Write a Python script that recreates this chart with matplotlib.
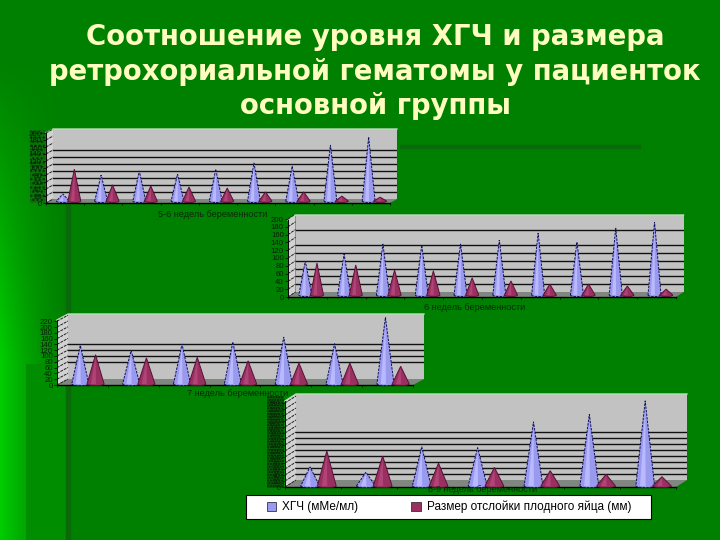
import numpy as np
import matplotlib
matplotlib.use("Agg")
import matplotlib.pyplot as plt
from matplotlib.patches import Patch, Rectangle

W, H = 720, 540

title_lines = ["Соотношение уровня ХГЧ и размера",
               "ретрохориальной гематомы у пациенток",
               "основной группы"]
series_names = ["ХГЧ (мМе/мл)", "Размер отслойки плодного яйца (мм)"]

labels_1 = "5-6 недель беременности"
hcg_1 = [20, 74, 86, 77, 91, 109, 100, 160, 183]
size_1 = [91, 46, 43, 40, 37, 26, 26, 14, 11]
grid_1 = [20, 40, 60, 80, 100, 120, 140]
ticks_1 = list(range(0, 201, 20))

labels_2 = "6 недель беременности"
hcg_2 = [87, 105, 131, 128, 131, 141, 159, 136, 172, 187]
size_2 = [82, 77, 64, 62, 44, 36, 28, 28, 23, 15]
grid_2 = [20, 40, 60, 80, 100, 120, 160]
ticks_2 = list(range(0, 201, 20))

labels_3 = "7 недель беременности"
hcg_3 = [133, 116, 138, 145, 162, 139, 230]
size_3 = [101, 90, 92, 80, 72, 72, 61]
grid_3 = [60, 80, 100, 120]
ticks_3 = list(range(0, 221, 20))

labels_4 = "8-9 недель беременности"
hcg_4 = [64, 46, 131, 128, 214, 239, 284]
size_4 = [117, 100, 76, 62, 51, 39, 31]
grid_4 = [20, 40, 60, 80, 100, 120, 140, 160]
ticks_4 = list(range(0, 281, 20))

BLUE, BLUE_L = "#9999ee", "#b9b9ff"
RED, RED_L = "#99305f", "#b04478"
TITLE_C = "#fffcc0"

fig = plt.figure(figsize=(W / 100, H / 100), dpi=100)
plt.rcParams["font.family"] = ["Liberation Sans", "DejaVu Sans"]

# slide background
bg = fig.add_axes([0, 0, 1, 1], zorder=0)
yy, xx = np.mgrid[0:H, 0:W]
g = np.full((H, W), 128.0)
fade = np.clip((yy - 60) / 300.0, 0, 1) * np.clip(1 - xx / 68.0, 0, 1) ** 1.5
g += 77 * fade
inner = (xx >= 26) & (xx < 68) & (yy >= 364)
g[inner] = 142
img = np.zeros((H, W, 3))
img[..., 1] = g / 255
bg.imshow(img, extent=(0, W, H, 0), aspect="auto", interpolation="nearest")
bg.add_patch(Rectangle((66, 205), 4, 335, color="#0a6a0a"))
bg.add_patch(Rectangle((400, 145), 240, 3, color="#0a6a0a"))
bg.add_patch(Rectangle((267, 396), 17, 92, facecolor="#0a5a0a", edgecolor="#002a00",
                       hatch="......", lw=0))
bg.add_patch(Rectangle((30, 130), 15, 73, facecolor="#0a700a", edgecolor="#003000",
                       hatch="....", lw=0))
bg.add_patch(Rectangle((246, 495), 405, 24, facecolor="white", edgecolor="black", lw=0.8))
bg.set_xlim(0, W)
bg.set_ylim(H, 0)
bg.axis("off")


def chart(name, hcg, size, grid, ticks, left, right_front, base, walltop,
          dx, dy, scale, cone_off, label_xy, tick_fs=5.6):
    n = len(hcg)
    pxcat = (right_front - left) / n
    dxd, dyd = dx / pxcat, dy / scale
    ytop = (base - walltop - dy) / scale
    ax = fig.add_axes([left / W, 1 - base / H,
                       (right_front + dx - left) / W, (base - walltop) / H], zorder=2)
    ax.set_xlim(0, n + dxd)
    ax.set_ylim(0, ytop + dyd)
    ax.patch.set_visible(False)
    for s in ("top", "right"):
        ax.spines[s].set_visible(False)
    ax.spines["left"].set_linewidth(0.7)
    ax.spines["left"].set_bounds(0, ytop)
    ax.spines["bottom"].set_linewidth(1.0)
    ax.spines["bottom"].set_bounds(0, n)
    ax.set_xticks(np.arange(n + 1))
    ax.set_xticklabels([])
    ax.tick_params(axis="x", length=1.5, width=0.5)
    ax.set_yticks(ticks)
    ax.set_yticklabels([str(t) for t in ticks], fontsize=tick_fs, color="#0a1f0a")
    ax.tick_params(axis="y", length=2, width=0.5, pad=1)

    ax.fill([dxd, n + dxd, n + dxd, dxd], [dyd, dyd, ytop + dyd, ytop + dyd],
            color="#c2c2c2", zorder=1, lw=0)
    ax.fill([0, dxd, dxd, 0], [0, dyd, ytop + dyd, ytop], color="#d2d2d2", zorder=1, lw=0)
    ax.fill([0, n, n + dxd, dxd], [0, 0, dyd, dyd], color="#808680", zorder=1, lw=0)
    ax.plot([0, dxd, n + dxd], [ytop, ytop + dyd, ytop + dyd], color="#b8e0b8",
            lw=1.0, zorder=1.5, clip_on=False)
    for t in ticks:
        ax.plot([0, dxd], [t, t + dyd], color="#222222", lw=0.7, ls=(0, (3, 1)), zorder=2)
    for t in grid:
        ax.plot([dxd, n + dxd], [t + dyd, t + dyd], color="#111111", lw=1.0, zorder=2)

    w = 0.168
    for i, (a, b) in enumerate(zip(hcg, size)):
        mid = i + 0.5 + dxd / 2
        y0 = cone_off / scale
        for c, v, col, light, ec, ls in (
            (mid - 0.15, a, BLUE, BLUE_L, "#101060", (0, (2.5, 1.2))),
            (mid + 0.15, b, RED, RED_L, "#5a1038", "-"),
        ):
            th = np.linspace(np.pi, 2 * np.pi, 14)
            ex = c + w * np.cos(th)
            ey = y0 + 1.6 / scale * np.sin(th)
            ax.fill(np.r_[ex, c], np.r_[ey, y0 + v], facecolor=col, edgecolor=ec,
                    lw=0.7, ls=ls, zorder=3, clip_on=False)
            ax.fill([c - w * 0.55, c + w * 0.05, c], [y0, y0, y0 + v * 0.9],
                    facecolor=light, lw=0, zorder=3.1, clip_on=False)
    fig.text(label_xy[0] / W, 1 - label_xy[1] / H, name, fontsize=6.6, color="#0a2a0a",
             ha="center", va="center", zorder=5)


chart(labels_1, hcg_1, size_1, grid_1, ticks_1, 46, 390, 203, 129, 7, 4, 0.35, 2, (213, 214))
chart(labels_2, hcg_2, size_2, grid_2, ticks_2, 288, 676, 297, 215, 7.5, 5, 0.39, 2, (475, 307))
chart(labels_3, hcg_3, size_3, grid_3, ticks_3, 57, 413, 385, 314, 11, 6, 0.29, 1, (238, 394))
chart(labels_4, hcg_4, size_4, grid_4, ticks_4, 285, 676, 487, 394, 11, 7, 0.30, 1, (483, 489),
      tick_fs=5.0)

fig.text(375 / W, 1 - 71.5 / H, "\n".join(title_lines), fontsize=19.8, fontweight="bold",
         color=TITLE_C, ha="center", va="center", linespacing=1.3,
         family=["DejaVu Sans"], zorder=6)

leg = fig.legend(handles=[Patch(facecolor=BLUE, edgecolor="#333355", lw=0.6, label=series_names[0]),
                          Patch(facecolor=RED, edgecolor="#333333", lw=0.6, label=series_names[1])],
                 ncol=2, loc="center", bbox_to_anchor=(449 / W, 1 - 507 / H),
                 fontsize=8.5, frameon=False, handlelength=0.8, handleheight=0.8,
                 handletextpad=0.5, columnspacing=4.5, borderpad=0, borderaxespad=0)
leg.set_zorder(7)

fig.savefig("out.png", dpi=100)
